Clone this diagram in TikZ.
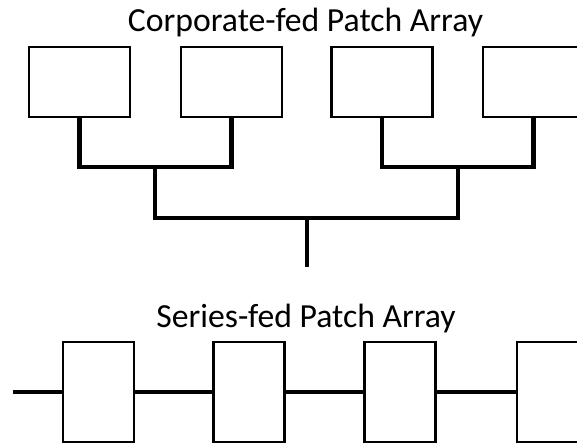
\documentclass[tikz,border=0pt]{standalone}
\usepackage{fontspec}
\setmainfont{Carlito}
\begin{document}
\begin{tikzpicture}[x=1pt,y=-1pt,
  patchtop/.style={draw, line width=2.8pt, minimum width=101pt, minimum height=70pt, inner sep=0pt, outer sep=0pt},
  patchser/.style={draw, line width=2.8pt, minimum width=71pt, minimum height=100pt, inner sep=0pt, outer sep=0pt},
  feeder/.style={line width=4.3pt},
  sline/.style={line width=4pt},
  title/.style={anchor=base, font=\fontsize{33.7}{40}\selectfont, inner sep=0pt}]
\useasboundingbox (0,0) rectangle (577,444);
\clip (0,0) rectangle (577,444);

% corporate-fed array
\node[title] (ctitle) at (305.5,32) {Corporate-fed Patch Array};
\node[patchtop] (p1) at (79.5,82) {};
\node[patchtop] (p2) at (231.5,82) {};
\node[patchtop] (p3) at (382,82) {};
\node[patchtop] (p4) at (533.5,82) {};
\coordinate (j12) at (155,167);
\coordinate (j34) at (458,167);
\coordinate (root) at (307,218);
\coordinate (feed) at (307,267);
\draw[feeder] (p1.south) |- (j12) -| (p2.south);
\draw[feeder] (p3.south) |- (j34) -| (p4.south);
\draw[feeder] (j12) |- (root) -| (j34);
\draw[feeder] (root) -- (feed);

% series-fed array
\node[title] (stitle) at (306,327) {Series-fed Patch Array};
\node[patchser] (s1) at (98.5,392) {};
\node[patchser] (s2) at (249,392) {};
\node[patchser] (s3) at (400,392) {};
\node[patchser] (s4) at (552.5,392) {};
\coordinate (sin) at (13,392);
\draw[sline] (sin) -- (s1.west);
\draw[sline] (s1.east) -- (s2.west);
\draw[sline] (s2.east) -- (s3.west);
\draw[sline] (s3.east) -- (s4.west);
\end{tikzpicture}
\end{document}
